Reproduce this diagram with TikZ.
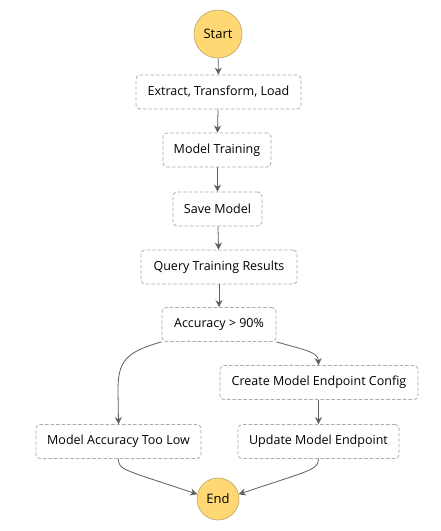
\documentclass[tikz,border=0pt]{standalone}
\usepackage{fontspec}
\setmainfont{Open Sans}
\usetikzlibrary{arrows.meta}
\definecolor{termfill}{HTML}{FFD873}
\definecolor{termline}{HTML}{B9A66A}
\definecolor{boxline}{HTML}{ABABAB}
\definecolor{arrowc}{HTML}{5F5F5F}
\tikzset{
  stepbox/.style={draw=boxline, dash pattern=on 3.5pt off 2pt, rounded corners=4pt, line width=0.8pt,
    minimum height=34pt, inner xsep=0pt, font=\fontsize{12.5pt}{14pt}\selectfont, text=black},
  term/.style={circle, draw=termline, fill=termfill, line width=0.6pt, inner sep=0pt,
    font=\fontsize{13pt}{15pt}\selectfont},
  flow/.style={draw=arrowc, line width=0.8pt, -{Stealth[length=7pt,width=7pt]}},
}
\begin{document}
\begin{tikzpicture}[x=1pt,y=-1pt]
\useasboundingbox (0,0) rectangle (441,531);
\fill[white] (0,0) rectangle (441,531);
\node[term, minimum size=48pt] (start) at (218,34) {Start};
\node[stepbox, minimum width=165pt] (etl) at (218.5,92) {Extract, Transform, Load};
\node[stepbox, minimum width=108pt] (train) at (217,150) {Model Training};
\node[stepbox, minimum width=89pt] (save) at (217.5,209) {Save Model};
\node[stepbox, minimum width=156pt] (query) at (219,267) {Query Training Results};
\node[stepbox, minimum width=114pt] (acc) at (219,324.5) {Accuracy > 90\%};
\node[stepbox, minimum width=198pt] (cfg) at (319,382.5) {Create Model Endpoint Config};
\node[stepbox, minimum width=165pt] (low) at (118.5,441.5) {Model Accuracy Too Low};
\node[stepbox, minimum width=161pt] (upd) at (318.5,441.5) {Update Model Endpoint};
\node[term, minimum size=42pt] (end) at (218,499) {End};
\draw[flow] (start) -- (etl);
\draw[flow] (etl) -- (train);
\draw[flow] (train.south -| save.north) -- (save);
\draw[flow] (save) -- (query);
\draw[flow] (query) -- (acc);
\draw[flow] (acc.south west) .. controls (125,352) and (118,362) .. (118,390) -- (low.north);
\draw[flow] (acc.south east) .. controls (305,350) and (318,352) .. (cfg.north -| upd.north);
\draw[flow] (cfg.south -| upd.north) -- (upd.north);
\draw[flow] (low.south) .. controls (118,470) and (125,470) .. (end.167);
\draw[flow] (upd.south) .. controls (318,470) and (311,470) .. (end.13);
\end{tikzpicture}
\end{document}
